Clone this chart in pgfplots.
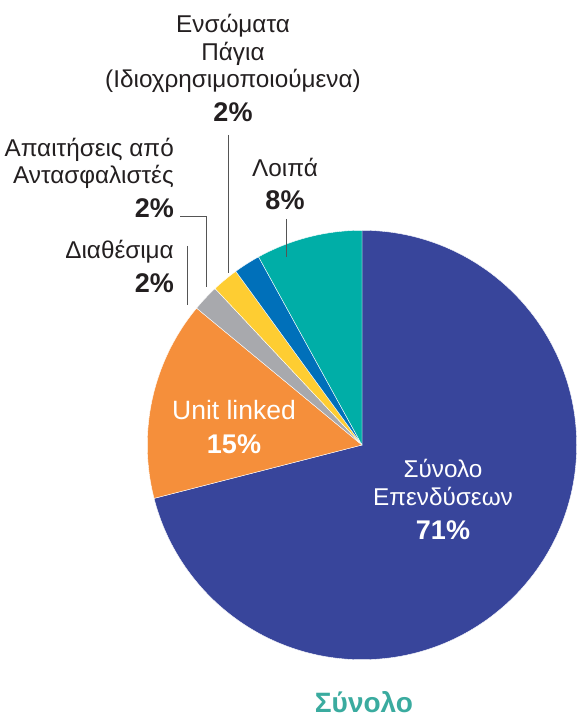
\documentclass[border=0pt]{standalone}
\usepackage{fontspec}
\setmainfont{Liberation Sans}
\usepackage{pgfplots}
\usepackage{pgfplotstable}
\pgfplotsset{compat=1.18}
\definecolor{cInv}{HTML}{38459B}
\definecolor{cUnit}{HTML}{F58F3B}
\definecolor{cCash}{HTML}{A8A9AD}
\definecolor{cRe}{HTML}{FECD32}
\definecolor{cFix}{HTML}{0070BA}
\definecolor{cOth}{HTML}{00AEA7}
\definecolor{cTitle}{HTML}{3AAB9F}
\definecolor{cTxt}{HTML}{231F20}
\definecolor{cLead}{HTML}{555555}
\pgfplotstableread{
value color
71 cInv
15 cUnit
2 cCash
2 cRe
2 cFix
8 cOth
}\piedata
\newcommand{\reg}{\fontsize{24.3}{29}\selectfont}
\newcommand{\bld}{\fontsize{27}{31}\selectfont\bfseries}
\begin{document}
\begin{tikzpicture}
\begin{axis}[
  scale only axis, width=577pt, height=720pt,
  xmin=0, xmax=577, ymin=0, ymax=720,
  hide axis, clip=false,
]
\path[draw=none] (axis cs:0,0) rectangle (axis cs:577,720);
\pgfplotstablegetrowsof{\piedata}
\pgfmathtruncatemacro{\nrows}{\pgfplotsretval-1}
\def\startang{90}
\pgfplotsinvokeforeach{0,...,\nrows}{
  \pgfplotstablegetelem{#1}{value}\of{\piedata}
  \let\val\pgfplotsretval
  \pgfplotstablegetelem{#1}{color}\of{\piedata}
  \let\col\pgfplotsretval
  \pgfmathsetmacro{\endang}{\startang-3.6*\val}
  \edef\temp{\noexpand\fill[\col, draw=white, line width=0.4pt] (axis cs:362,275) -- ++(\startang:214.7pt) arc[start angle=\startang, end angle=\endang, radius=214.7pt] -- cycle;}
  \temp
  \global\let\startang\endang
}
% leader lines
\draw[cLead, line width=0.8pt] (axis cs:228,585) -- (axis cs:228,447);
\draw[cLead, line width=0.8pt] (axis cs:180,504) -- (axis cs:206,504) -- (axis cs:206,433);
\draw[cLead, line width=0.8pt] (axis cs:187,474) -- (axis cs:187,415);
\draw[cLead, line width=0.8pt] (axis cs:286,501) -- (axis cs:286,463);
% outside labels
\node[anchor=base, text=cTxt, inner sep=0] at (axis cs:233,687) {\reg Ενσώματα};
\node[anchor=base, text=cTxt, inner sep=0] at (axis cs:233,659) {\reg Πάγια};
\node[anchor=base, text=cTxt, inner sep=0] at (axis cs:233,632) {\reg (Ιδιοχρησιμοποιούμενα)};
\node[anchor=base, text=cTxt, inner sep=0] at (axis cs:233,598) {\bld 2\%};
\node[anchor=base east, text=cTxt, inner sep=0] at (axis cs:174,563) {\reg Απαιτήσεις από};
\node[anchor=base east, text=cTxt, inner sep=0] at (axis cs:174,536) {\reg Αντασφαλιστές};
\node[anchor=base east, text=cTxt, inner sep=0] at (axis cs:174,502) {\bld 2\%};
\node[anchor=base east, text=cTxt, inner sep=0] at (axis cs:174,461) {\reg Διαθέσιμα};
\node[anchor=base east, text=cTxt, inner sep=0] at (axis cs:174,427) {\bld 2\%};
\node[anchor=base, text=cTxt, inner sep=0] at (axis cs:285,543) {\reg Λοιπά};
\node[anchor=base, text=cTxt, inner sep=0] at (axis cs:285,510) {\bld 8\%};
% inside labels
\node[anchor=base, text=white, inner sep=0] at (axis cs:234,300) {\fontsize{26.5}{30}\selectfont Unit linked};
\node[anchor=base, text=white, inner sep=0] at (axis cs:234,266) {\bld 15\%};
\node[anchor=base, text=white, inner sep=0] at (axis cs:443,242) {\reg Σύνολο};
\node[anchor=base, text=white, inner sep=0] at (axis cs:443,214) {\reg Επενδύσεων};
\node[anchor=base, text=white, inner sep=0] at (axis cs:443,180) {\bld 71\%};
% title
\node[anchor=base, text=cTitle, inner sep=0] at (axis cs:364,7) {\fontsize{28}{32}\selectfont\bfseries Σύνολο};
\end{axis}
\end{tikzpicture}
\end{document}
